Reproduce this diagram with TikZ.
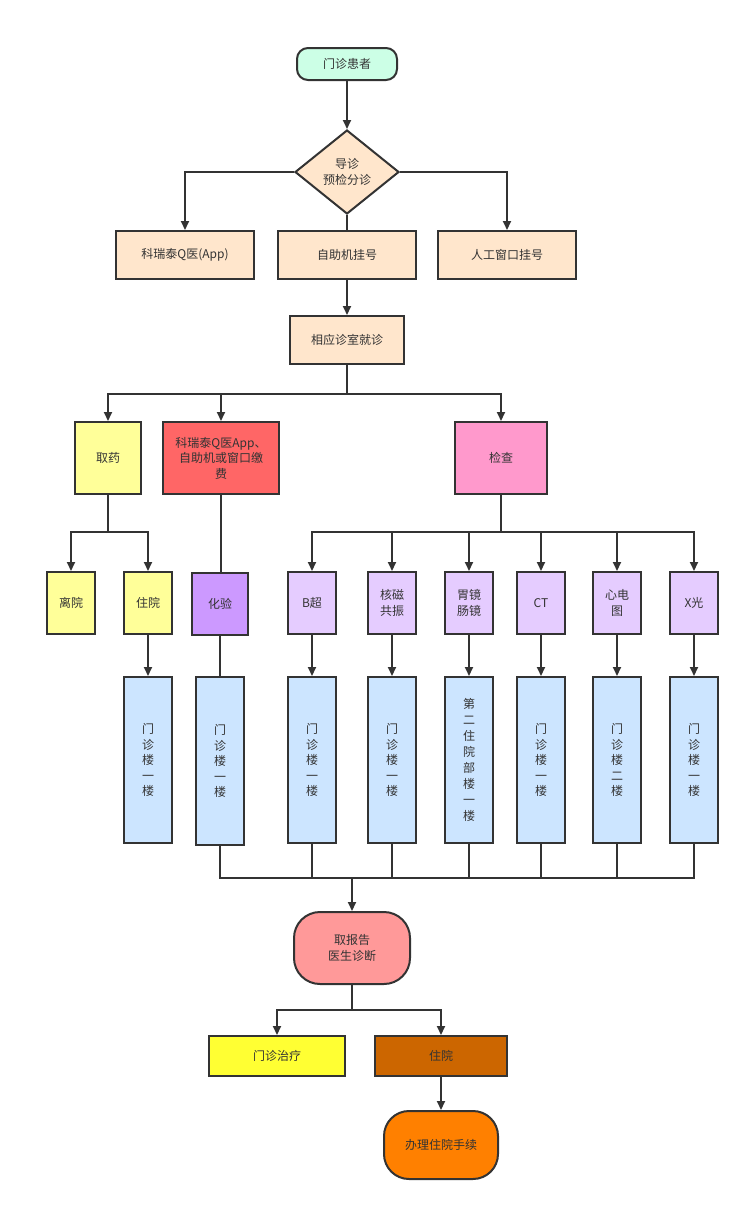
\documentclass[tikz,border=0pt]{standalone}
\usepackage{fontspec}
\setmainfont{Noto Sans CJK SC}
\usetikzlibrary{shapes.geometric,arrows.meta}
\definecolor{lineC}{HTML}{333333}
\definecolor{mintC}{HTML}{CCFFE6}
\definecolor{peachC}{HTML}{FFE6CC}
\definecolor{paleY}{HTML}{FFFF99}
\definecolor{redC}{HTML}{FF6666}
\definecolor{pinkC}{HTML}{FF99CC}
\definecolor{violetC}{HTML}{CC99FF}
\definecolor{lilacC}{HTML}{E5CCFF}
\definecolor{skyC}{HTML}{CCE5FF}
\definecolor{roseC}{HTML}{FF9999}
\definecolor{yellowC}{HTML}{FFFF33}
\definecolor{brownC}{HTML}{CC6600}
\definecolor{orangeC}{HTML}{FF8000}
\begin{document}
\begin{tikzpicture}[x=1pt,y=-1pt,
	box/.style={draw=lineC,line width=2pt,text=lineC,inner sep=0pt,align=center,font=\fontsize{12}{15.5}\selectfont},
	regbox/.style={box,fill=peachC,minimum width=138pt,minimum height=48pt},
	smallbox/.style={box,minimum width=48pt,minimum height=62pt},
	floorbox/.style={box,fill=skyC,minimum width=48pt,minimum height=166pt},
	ln/.style={draw=lineC,line width=2pt},
	arr/.style={ln,-{Triangle[length=9pt,width=8pt]}}]
	
	\useasboundingbox (0,0) rectangle (749,1211);
	
	\node[box,fill=mintC,rounded corners=11pt,minimum width=100pt,minimum height=32pt] (pat) at (347,64) {门诊患者};
	\node[box,diamond,fill=peachC,minimum width=104pt,minimum height=84pt] (guide) at (347,172) {导诊\\预检分诊};
	
	\node[regbox] (app) at (185,255) {科瑞泰Q医(App)};
	\node[regbox] (self) at (347,255) {自助机挂号};
	\node[regbox] (win) at (507,255) {人工窗口挂号};
	
	\node[box,fill=peachC,minimum width=114pt,minimum height=48pt] (room) at (347,340) {相应诊室就诊};
	
	\node[box,fill=paleY,minimum width=66pt,minimum height=72pt] (med) at (108,458) {取药};
	\node[box,fill=redC,minimum width=116pt,minimum height=72pt] (pay) at (221,458) {科瑞泰Q医App、\\自助机或窗口缴\\费};
	\node[box,fill=pinkC,minimum width=92pt,minimum height=72pt] (exam) at (501,458) {检查};
	
	\node[smallbox,fill=paleY] (leave) at (71,603) {离院};
	\node[smallbox,fill=paleY] (stay) at (148,603) {住院};
	\node[smallbox,fill=violetC,minimum width=56pt] (lab) at (220,604) {化验};
	\node[smallbox,fill=lilacC] (bus) at (312,603) {B超};
	\node[smallbox,fill=lilacC] (mri) at (392,603) {核磁\\共振};
	\node[smallbox,fill=lilacC] (endo) at (469,603) {胃镜\\肠镜};
	\node[smallbox,fill=lilacC] (ct) at (541,603) {CT};
	\node[smallbox,fill=lilacC] (ecg) at (617,603) {心电\\图};
	\node[smallbox,fill=lilacC] (xray) at (694,603) {X光};
	
	\node[floorbox] (stayF) at (148,760) {门\\诊\\楼\\一\\楼};
	\node[floorbox,minimum height=168pt] (labF) at (220,761) {门\\诊\\楼\\一\\楼};
	\node[floorbox] (busF) at (312,760) {门\\诊\\楼\\一\\楼};
	\node[floorbox] (mriF) at (392,760) {门\\诊\\楼\\一\\楼};
	\node[floorbox,font=\fontsize{12}{16}\selectfont] (endoF) at (469,760) {第\\二\\住\\院\\部\\楼\\一\\楼};
	\node[floorbox] (ctF) at (541,760) {门\\诊\\楼\\一\\楼};
	\node[floorbox] (ecgF) at (617,760) {门\\诊\\楼\\二\\楼};
	\node[floorbox] (xrayF) at (694,760) {门\\诊\\楼\\一\\楼};
	
	\node[box,fill=roseC,rounded corners=26pt,minimum width=116pt,minimum height=72pt] (report) at (352,948) {取报告\\医生诊断};
	\node[box,fill=yellowC,minimum width=136pt,minimum height=40pt] (treat) at (277,1056) {门诊治疗};
	\node[box,fill=brownC,minimum width=132pt,minimum height=40pt] (admit) at (441,1056) {住院};
	\node[box,fill=orangeC,rounded corners=25pt,minimum width=114pt,minimum height=68pt] (proc) at (441,1145) {办理住院手续};
	
	\coordinate (busA) at (347,394);
	\coordinate (busB) at (108,532);
	\coordinate (busC) at (501,532);
	\coordinate (busD) at (352,878);
	\coordinate (busE) at (352,1010);
	
	\draw[arr] (pat) -- (guide);
	\draw[arr] (guide.west) -| (app.north);
	\draw[arr] (guide.east) -| (win.north);
	\draw[ln] (guide.south) -- (self.north);
	\draw[arr] (self) -- (room);
	
	\draw[ln] (room.south) -- (busA);
	\draw[arr] (busA) -| (med.north);
	\draw[arr] (busA) -| (pay.north);
	\draw[arr] (busA) -| (exam.north);
	
	\draw[ln] (med.south) -- (busB);
	\draw[arr] (busB) -| (leave.north);
	\draw[arr] (busB) -| (stay.north);
	\draw[ln] (pay.south) -- (pay.south |- lab.north);
	
	\draw[ln] (exam.south) -- (busC);
	\foreach \t in {bus,mri,endo,ct,ecg,xray}
		\draw[arr] (busC) -| (\t.north);
	
	\foreach \t in {stay,bus,mri,endo,ct,ecg,xray}
		\draw[arr] (\t.south) -- (\t F.north);
	\draw[ln] (lab.south) -- (labF.north);
	
	\foreach \t in {lab,bus,mri,endo,ct,ecg,xray}
		\draw[ln] (\t F.south) |- (busD);
	\draw[arr] (busD) -- (report.north);
	
	\draw[ln] (report.south) -- (busE);
	\draw[arr] (busE) -| (treat.north);
	\draw[arr] (busE) -| (admit.north);
	\draw[arr] (admit) -- (proc);
	
\end{tikzpicture}
\end{document}
